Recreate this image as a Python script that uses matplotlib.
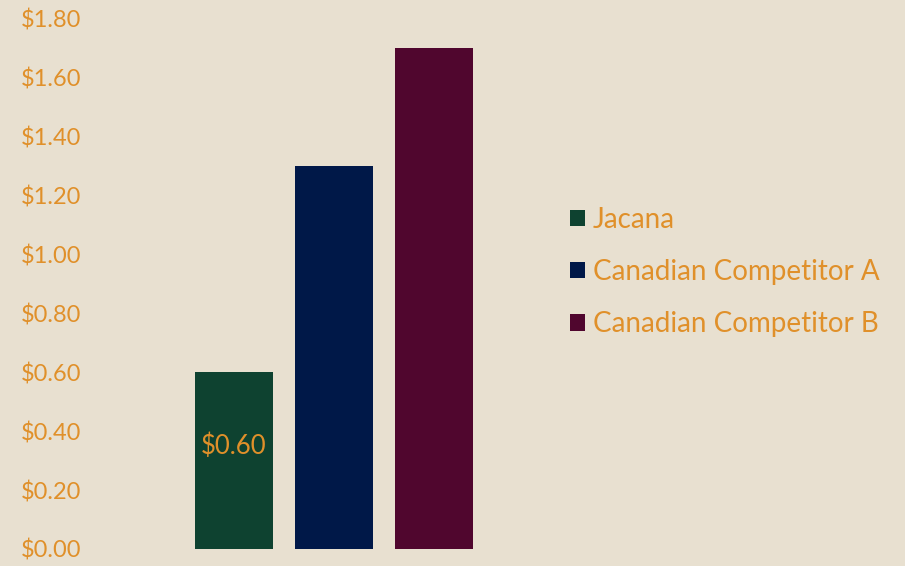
import matplotlib.pyplot as plt
from matplotlib.patches import Patch

# data
companies = ['Jacana', 'Canadian Competitor A', 'Canadian Competitor B']
prices = [0.60, 1.30, 1.70]
bar_colors = ['#0e4230', '#001848', '#50062e']
yticks = [0.0, 0.2, 0.4, 0.6, 0.8, 1.0, 1.2, 1.4, 1.6, 1.8]

bg = '#e8e0d0'
orange = '#e0902a'
plt.rcParams['font.family'] = ['Lato', 'DejaVu Sans']

fig = plt.figure(figsize=(9.05, 5.66), dpi=100, facecolor=bg)
# axes placed in pixel terms: x from 95 to 545 px, y from 19 to 549 px
ax = fig.add_axes([95 / 905, 1 - 549 / 566, 450 / 905, 530 / 566])
ax.set_facecolor(bg)

x = range(len(companies))
bars = ax.bar(x, prices, width=0.78, color=bar_colors)

ax.set_xlim(-1.39, 3.11)
ax.set_ylim(0, 1.8)
ax.set_yticks(yticks)
ax.set_yticklabels(['$%.2f' % v for v in yticks])
ax.set_xticks([])
ax.tick_params(axis='y', length=0, labelsize=17, labelcolor=orange, pad=10)
for s in ax.spines.values():
    s.set_visible(False)

# only the first bar carries a value label
ax.text(0, 0.35, '$%.2f' % prices[0], ha='center', va='center',
        color=orange, fontsize=18.5)

handles = [Patch(facecolor=c, edgecolor='none') for c in bar_colors]
fig.legend(handles, companies, loc='center left', bbox_to_anchor=(570 / 905, 1 - 272 / 566),
           frameon=False, fontsize=20, labelcolor=orange, handlelength=0.53,
           handleheight=0.53, handletextpad=0.3, labelspacing=0.95,
           borderpad=0, borderaxespad=0)

fig.savefig('out.png', dpi=100, facecolor=bg)
